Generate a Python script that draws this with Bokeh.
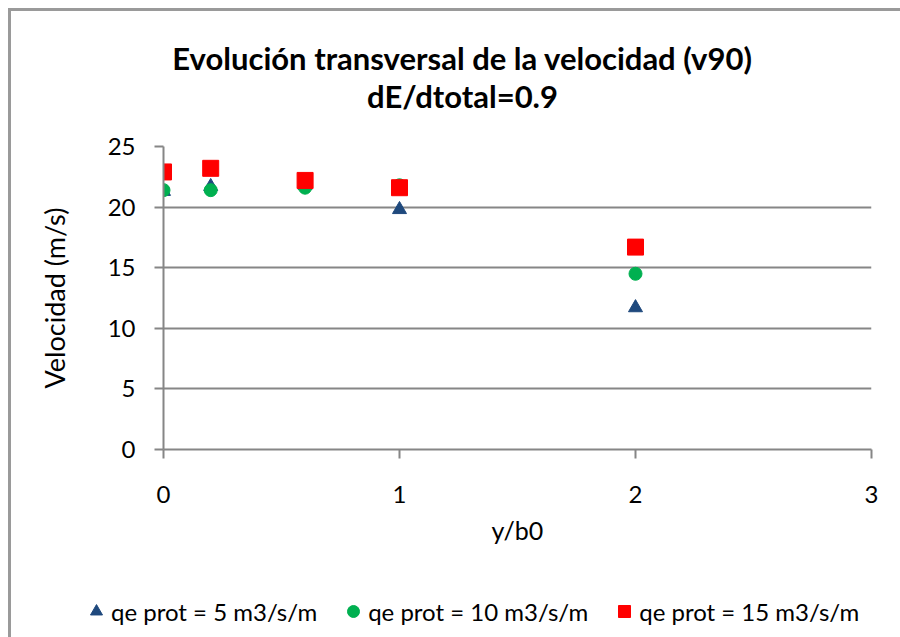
from bokeh.plotting import figure
from bokeh.layouts import column
from bokeh.models import Range1d, Legend, LegendItem, FixedTicker, Label
from bokeh.embed import file_html
from bokeh.resources import INLINE

# data
x_vals = [0, 0.2, 0.6, 1, 2]
v_q5 = [21.3, 21.7, 21.8, 19.8, 11.7]
v_q10 = [21.4, 21.4, 21.6, 21.8, 14.5]
v_q15 = [22.9, 23.2, 22.2, 21.6, 16.7]
labels = ["qe prot = 5 m3/s/m", "qe prot = 10 m3/s/m", "qe prot = 15 m3/s/m"]
title1 = "Evolución transversal de la velocidad (v90)"
title2 = "dE/dtotal=0.9"
x_ticks = [0, 1, 2, 3]
y_ticks = [0, 5, 10, 15, 20, 25]

FONT = "Lato"
GRAY = "#868686"
COLORS = ["#1F497D", "#00B050", "#FF0000"]
MARKERS = ["triangle", "circle", "square"]
W = 889


def no_align(f):
    try:
        f.frame_align = False
    except Exception:
        pass


def bare(h, yr=(0, 1)):
    f = figure(width=W, height=h, output_backend="svg", toolbar_location=None,
               x_axis_type=None, y_axis_type=None, x_range=Range1d(0, 1), y_range=Range1d(*yr),
               min_border=0)
    f.outline_line_color = None
    f.grid.visible = False
    no_align(f)
    return f


# ---- title block
p_top = bare(115)
for txt, yy in ((title1, 69), (title2, 31)):
    p_top.add_layout(Label(x=451, y=yy, x_units="screen", y_units="screen", text=txt,
                           text_align="center", text_baseline="middle", text_font=FONT,
                           text_font_size="31px", text_font_style="bold", text_color="black"))

# ---- main chart
p = figure(width=W, height=445, output_backend="svg", toolbar_location=None,
           x_range=Range1d(0, 3), y_range=Range1d(0, 25),
           min_border_left=152, min_border_right=29, min_border_top=20, min_border_bottom=122)
no_align(p)
p.outline_line_color = None
p.xgrid.visible = False
p.ygrid.grid_line_color = GRAY
p.ygrid.grid_line_width = 2

for ax in (p.xaxis[0], p.yaxis[0]):
    ax.axis_line_color = GRAY
    ax.axis_line_width = 2
    ax.major_tick_line_color = GRAY
    ax.major_tick_line_width = 2
    ax.major_tick_out = 9
    ax.major_tick_in = 0
    ax.minor_tick_line_color = None
    ax.major_label_text_font = FONT
    ax.major_label_text_font_size = "24px"
    ax.major_label_text_color = "black"
    ax.axis_label_text_font = FONT
    ax.axis_label_text_font_style = "normal"
    ax.axis_label_text_color = "black"

p.xaxis[0].ticker = FixedTicker(ticks=x_ticks)
p.yaxis[0].ticker = FixedTicker(ticks=y_ticks)
p.xaxis[0].major_label_standoff = 27
p.xaxis[0].axis_label = "y/b0"
p.xaxis[0].axis_label_text_font_size = "25px"
p.xaxis[0].axis_label_standoff = 9
p.yaxis[0].major_label_standoff = 19
p.yaxis[0].axis_label = "Velocidad (m/s)"
p.yaxis[0].axis_label_text_font_size = "27px"
p.yaxis[0].axis_label_standoff = 34

series = [v_q5, v_q10, v_q15]
sizes = [14, 13, 16]
for vals, mk, col, sz in zip(series, MARKERS, COLORS, sizes):
    p.scatter(x_vals, vals, marker=mk, size=sz, fill_color=col, line_color=col)

# ---- legend block (series drawn out of view, used only for legend glyphs)
p_leg = bare(66, yr=(100, 101))
items = []
for vals, lab, mk, col in zip(series, labels, MARKERS, COLORS):
    r = p_leg.scatter(x_vals, vals, marker=mk, fill_color=col, line_color=col)
    items.append(LegendItem(label=lab, renderers=[r]))
legend = Legend(items=items, orientation="horizontal", location=(70, 11),
                label_text_font=FONT, label_text_font_size="24px", label_text_color="black",
                glyph_width=30, glyph_height=30, label_standoff=0, spacing=21,
                padding=0, margin=0, border_line_color=None, background_fill_alpha=0)
p_leg.add_layout(legend, "center")

layout = column(p_top, p, p_leg, spacing=0,
                styles={"margin-left": "8px", "margin-top": "8px",
                        "border-left": "3px solid #9a9a9a", "border-top": "3px solid #9a9a9a"})

open("out.html", "w").write(file_html(layout, INLINE))
